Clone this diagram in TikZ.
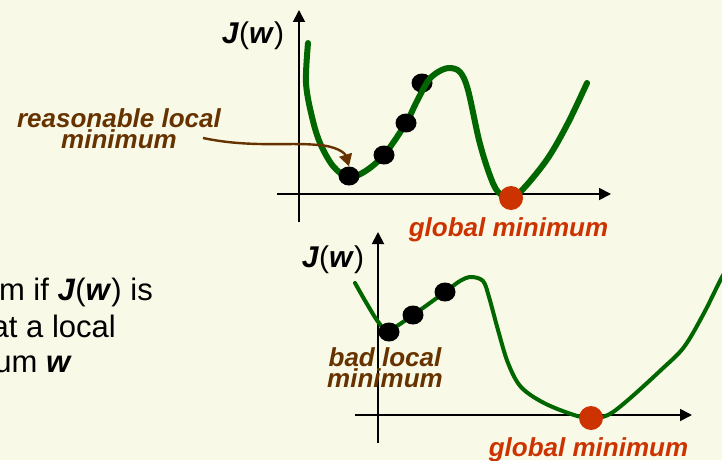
\documentclass[tikz,border=0pt]{standalone}
\usepackage{fontspec}
\setmainfont{Liberation Sans}
\usetikzlibrary{arrows.meta,shapes.geometric}
\definecolor{bg}{RGB}{248,249,230}
\definecolor{curvegreen}{RGB}{0,102,0}
\definecolor{minred}{RGB}{204,51,0}
\definecolor{labelbrown}{RGB}{102,51,0}
\begin{document}
\begin{tikzpicture}[x=1pt,y=-1pt,
  axisline/.style={line width=1.8pt,-{Triangle[length=12pt,width=12pt]}},
  costcurve/.style={curvegreen,line width=#1,line cap=round,line join=round},
  blackdot/.style={ellipse,fill=black,minimum width=21pt,minimum height=19pt,inner sep=0pt},
  reddot/.style={circle,fill=minred,minimum size=24pt,inner sep=0pt},
  brownlabel/.style={labelbrown,font=\fontsize{26}{21}\selectfont\bfseries\itshape,align=center,inner sep=0pt},
  redlabel/.style={minred,font=\fontsize{26}{21}\selectfont\bfseries\itshape,inner sep=0pt},
  axislabel/.style={font=\fontsize{30}{32}\selectfont,inner sep=0pt},
  bodytext/.style={font=\fontsize{31}{36}\selectfont,inner sep=0pt,anchor=base east}
]
\fill[bg] (0,0) rectangle (722,460);
\useasboundingbox (0,0) rectangle (722,460);

% ---------- top graph ----------
\coordinate (tyb) at (299,222);
\coordinate (tyt) at (299,10);
\coordinate (txl) at (277,194);
\coordinate (txr) at (611,194);
\draw[axisline] (tyb) -- (tyt);
\draw[axisline] (txl) -- (txr);
\node[axislabel,anchor=base] (tJ) at (253,44) {\textbf{\textit{J}}(\textbf{\textit{w}})};

\node[blackdot] (t4) at (422,83) {};
\draw[costcurve=6pt] plot[smooth,tension=0.55] coordinates {
  (308,43) (306,83) (312,117) (320,143) (333,166) (348,177) (364,172)
  (384,155) (406,123) (416,103) (428,81) (438,72) (449,68) (460,72) (468,90)
  (479,140) (489,173) (498,192) (511,197) (524,188) (548,158) (568,123) (587,83)};
\node[blackdot] (t1) at (349,176) {};
\node[blackdot] (t2) at (384,155) {};
\node[blackdot] (t3) at (406,123) {};
\node[reddot] (tg) at (511,198) {};

\node[redlabel,anchor=base] (tglob) at (508.5,236) {global minimum};
\node[brownlabel,anchor=base] (reas) at (119,148) {reasonable local\\minimum};
\coordinate (arrstart) at (203,138);
\draw[labelbrown,line width=2.4pt,-{Triangle[length=12pt,width=13pt]}]
  (arrstart) .. controls (250,148) and (290,142) .. (318,145)
  .. controls (336,146) and (345,153) .. (t1.north);

% ---------- bottom graph ----------
\coordinate (byb) at (378,443);
\coordinate (byt) at (378,232);
\coordinate (bxl) at (355,415);
\coordinate (bxr) at (692,415);
\draw[axisline] (byb) -- (byt);
\draw[axisline] (bxl) -- (bxr);
\node[axislabel,anchor=base] (bJ) at (333,267) {\textbf{\textit{J}}(\textbf{\textit{w}})};

\draw[costcurve=4pt] plot[smooth,tension=0.55] coordinates {
  (355,283) (367,304) (379,323) (389,330) (413,315) (445,292) (460,281)
  (471,277) (483,281) (489,297) (498,330) (508,363) (521,387) (544,403)
  (574,415) (591,418) (608,415) (628,400) (661,370) (684,347) (704,313)
  (722,277) (732,262)};
\node[blackdot] (b1) at (389,332) {};
\node[blackdot] (b2) at (413,315) {};
\node[blackdot] (b3) at (445,292) {};
\node[reddot] (bg) at (591,418) {};

\node[brownlabel,anchor=base] (bad) at (385,387) {bad local\\minimum};
\node[redlabel,anchor=base] (bglob) at (588.5,456) {global minimum};

% ---------- left text ----------
\node[bodytext] (l1) at (153,300) {m if \textbf{\textit{J}}(\textbf{\textit{w}}) is};
\node[bodytext] (l2) at (116,337) {at a local};
\node[bodytext] (l3) at (72,372) {um \textbf{\textit{w}}};
\end{tikzpicture}
\end{document}
